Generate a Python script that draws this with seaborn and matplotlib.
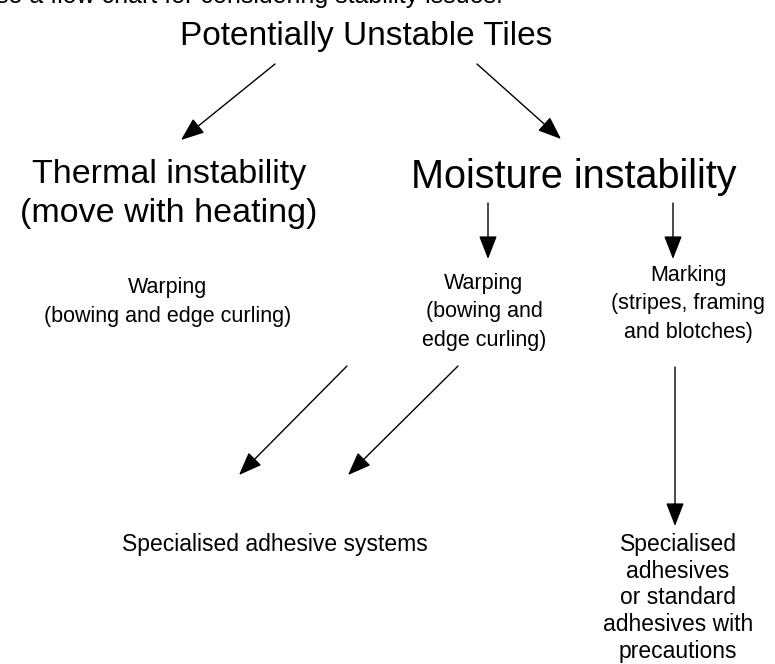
import matplotlib
matplotlib.use("Agg")
import matplotlib.pyplot as plt
import seaborn as sns

# flow chart content
caption = "se a flow chart for considering stability issues."
root_label = "Potentially Unstable Tiles"
branch_labels = ["Thermal instability\n(move with heating)", "Moisture instability"]
effect_labels = [
    "Warping\n(bowing and edge curling)",
    "Warping\n(bowing and\nedge curling)",
    "Marking\n(stripes, framing\nand blotches)",
]
remedy_labels = [
    "Specialised adhesive systems",
    "Specialised\nadhesives\nor standard\nadhesives with\nprecautions",
]

# layout (pixel coordinates, y downwards)
branch_xy = [(169, 194), (574, 177)]
branch_size = [24.5, 28.5]
effect_xy = [(168, 302), (484, 312), (688, 304)]
remedy_xy = [(275, 544), (678, 598)]
remedy_ls = [1.3, 1.2]
arrows = [
    ((275, 64), (181, 140)),
    ((477, 64), (561, 139)),
    ((488, 203), (488, 259)),
    ((673, 203), (673, 259)),
    ((347, 366), (239, 475)),
    ((458, 366), (348, 475)),
    ((675, 367), (675, 526)),
]

sns.set_theme(style="white")
plt.rcParams['font.family'] = ['Liberation Sans', 'DejaVu Sans']

fig = plt.figure(figsize=(7.75, 6.64), dpi=100)
ax = fig.add_axes([0, 0, 1, 1])
ax.set_xlim(0, 775)
ax.set_ylim(664, 0)
ax.axis("off")

ax.text(-4, 3, caption, fontsize=18, ha="left", va="baseline", color="black")
ax.text(366, 37, root_label, fontsize=24, ha="center", va="center", color="black")

for (x, y), lab, fs in zip(branch_xy, branch_labels, branch_size):
    ax.text(x, y, lab, fontsize=fs, ha="center", va="center",
            linespacing=1.3, color="black")

for (x, y), lab in zip(effect_xy, effect_labels):
    ax.text(x, y, lab, fontsize=15.5, ha="center", va="center",
            linespacing=1.45, color="black")

for (x, y), lab, ls in zip(remedy_xy, remedy_labels, remedy_ls):
    ax.text(x, y, lab, fontsize=16.5, ha="center", va="center",
            linespacing=ls, color="black")

for start, end in arrows:
    ax.annotate("", xy=end, xytext=start,
                arrowprops=dict(arrowstyle="-|>,head_length=0.9,head_width=0.35",
                                color="black", lw=1, shrinkA=0, shrinkB=0,
                                mutation_scale=16))

fig.savefig("out.png", dpi=100, facecolor="white")
